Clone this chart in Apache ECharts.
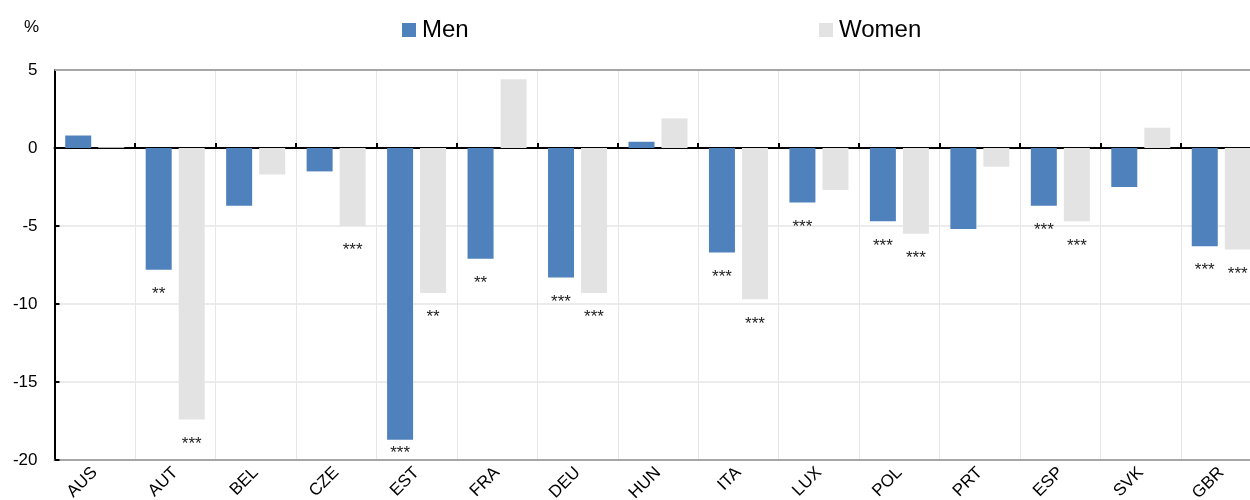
<!DOCTYPE html>
<html>
<head>
<meta charset="utf-8">
<script src="https://cdn.jsdelivr.net/npm/echarts@6/dist/echarts.min.js"></script>
<style>
html,body{margin:0;padding:0;background:#fff;}
#chart{width:1250px;height:500px;}
</style>
</head>
<body>
<div id="chart"></div>
<script>
var categories = ['AUS','AUT','BEL','CZE','EST','FRA','DEU','HUN','ITA','LUX','POL','PRT','ESP','SVK','GBR'];
var menValues   = [0.8, -7.8, -3.7, -1.5, -18.7, -7.1, -8.3, 0.4, -6.7, -3.5, -4.7, -5.2, -3.7, -2.5, -6.3];
var womenValues = [0.05, -17.4, -1.7, -5.0, -9.3, 4.4, -9.3, 1.9, -9.7, -2.7, -5.5, -1.2, -4.7, 1.3, -6.5];
var menSig   = ['', '**', '', '', '***', '**', '***', '', '***', '***', '***', '', '***', '', '***'];
var womenSig = ['', '***', '', '***', '**', '', '***', '', '***', '', '***', '', '***', '', '***'];
var yTicks = { min: -20, max: 5, interval: 5 };

var FONT = 'Liberation Sans, Arial, sans-serif';
var chart = echarts.init(document.getElementById('chart'), null, {renderer: 'canvas'});

// Labels near the bottom of the axis sit closer to the bar end (as in the original).
function buildData(values) {
  return values.map(function (v) {
    if (v < yTicks.min + 2) {
      return {value: v, label: {distance: 5}};
    }
    return v;
  });
}

function sigLabel(sigArr) {
  return {
    show: true,
    position: 'bottom',
    distance: 16,
    fontFamily: FONT,
    fontSize: 17,
    color: '#222',
    formatter: function (p) { return sigArr[p.dataIndex]; }
  };
}

var option = {
  animation: false,
  backgroundColor: '#fff',
  title: {
    text: '%', left: 24, top: 19, padding: 0,
    textStyle: {fontFamily: FONT, fontSize: 17, fontWeight: 'normal', color: '#000'}
  },
  legend: [
    {
      data: ['Men'], left: 402, top: 18, padding: 0, itemWidth: 14, itemHeight: 14, itemGap: 0,
      icon: 'rect',
      textStyle: {fontFamily: FONT, fontSize: 24, color: '#000', padding: [0,0,0,1]}
    },
    {
      data: ['Women'], left: 819, top: 18, padding: 0, itemWidth: 14, itemHeight: 14, itemGap: 0,
      icon: 'rect',
      textStyle: {fontFamily: FONT, fontSize: 24, color: '#000', padding: [0,0,0,1]}
    }
  ],
  grid: {left: 54.5, width: 1207, top: 70, bottom: 40, containLabel: false, outerBoundsMode: 'none'},
  xAxis: [
    {
      type: 'category', data: categories, position: 'bottom',
      axisLine: {onZero: false, lineStyle: {color: '#a6a6a6', width: 2}},
      axisTick: {show: false},
      splitLine: {show: true, lineStyle: {color: '#e6e6e6', width: 1}},
      axisLabel: {rotate: 45, fontFamily: FONT, fontSize: 17, color: '#000', margin: 10, interval: 0,
                  padding: [10, 0, 0, 0]}
    },
    {
      type: 'category', data: categories, position: 'top',
      axisLine: {onZero: true, lineStyle: {color: '#000', width: 2}},
      axisTick: {show: true, length: 5, lineStyle: {color: '#000', width: 2}},
      axisLabel: {show: false},
      splitLine: {show: false}
    }
  ],
  yAxis: {
    type: 'value', min: yTicks.min, max: yTicks.max, interval: yTicks.interval,
    axisLine: {show: true, lineStyle: {color: '#000', width: 2}},
    axisTick: {show: true, inside: true, length: 5, lineStyle: {color: '#000', width: 2}},
    axisLabel: {fontFamily: FONT, fontSize: 17, color: '#000', margin: 17},
    splitLine: {show: true, lineStyle: {color: '#e6e6e6', width: 1.5}}
  },
  series: [
    {
      name: 'Men', type: 'bar', xAxisIndex: 0, data: buildData(menValues),
      barWidth: 26, barGap: '27%',
      itemStyle: {color: '#4f81bd'},
      label: sigLabel(menSig),
      markLine: {
        silent: true, symbol: 'none', label: {show: false},
        lineStyle: {color: '#a6a6a6', width: 2, type: 'solid'},
        data: [{yAxis: yTicks.max}]
      }
    },
    {
      name: 'Women', type: 'bar', xAxisIndex: 0, data: buildData(womenValues),
      barWidth: 26, barGap: '27%',
      itemStyle: {color: '#e3e3e3'},
      label: sigLabel(womenSig)
    }
  ]
};
chart.setOption(option);
</script>
</body>
</html>
